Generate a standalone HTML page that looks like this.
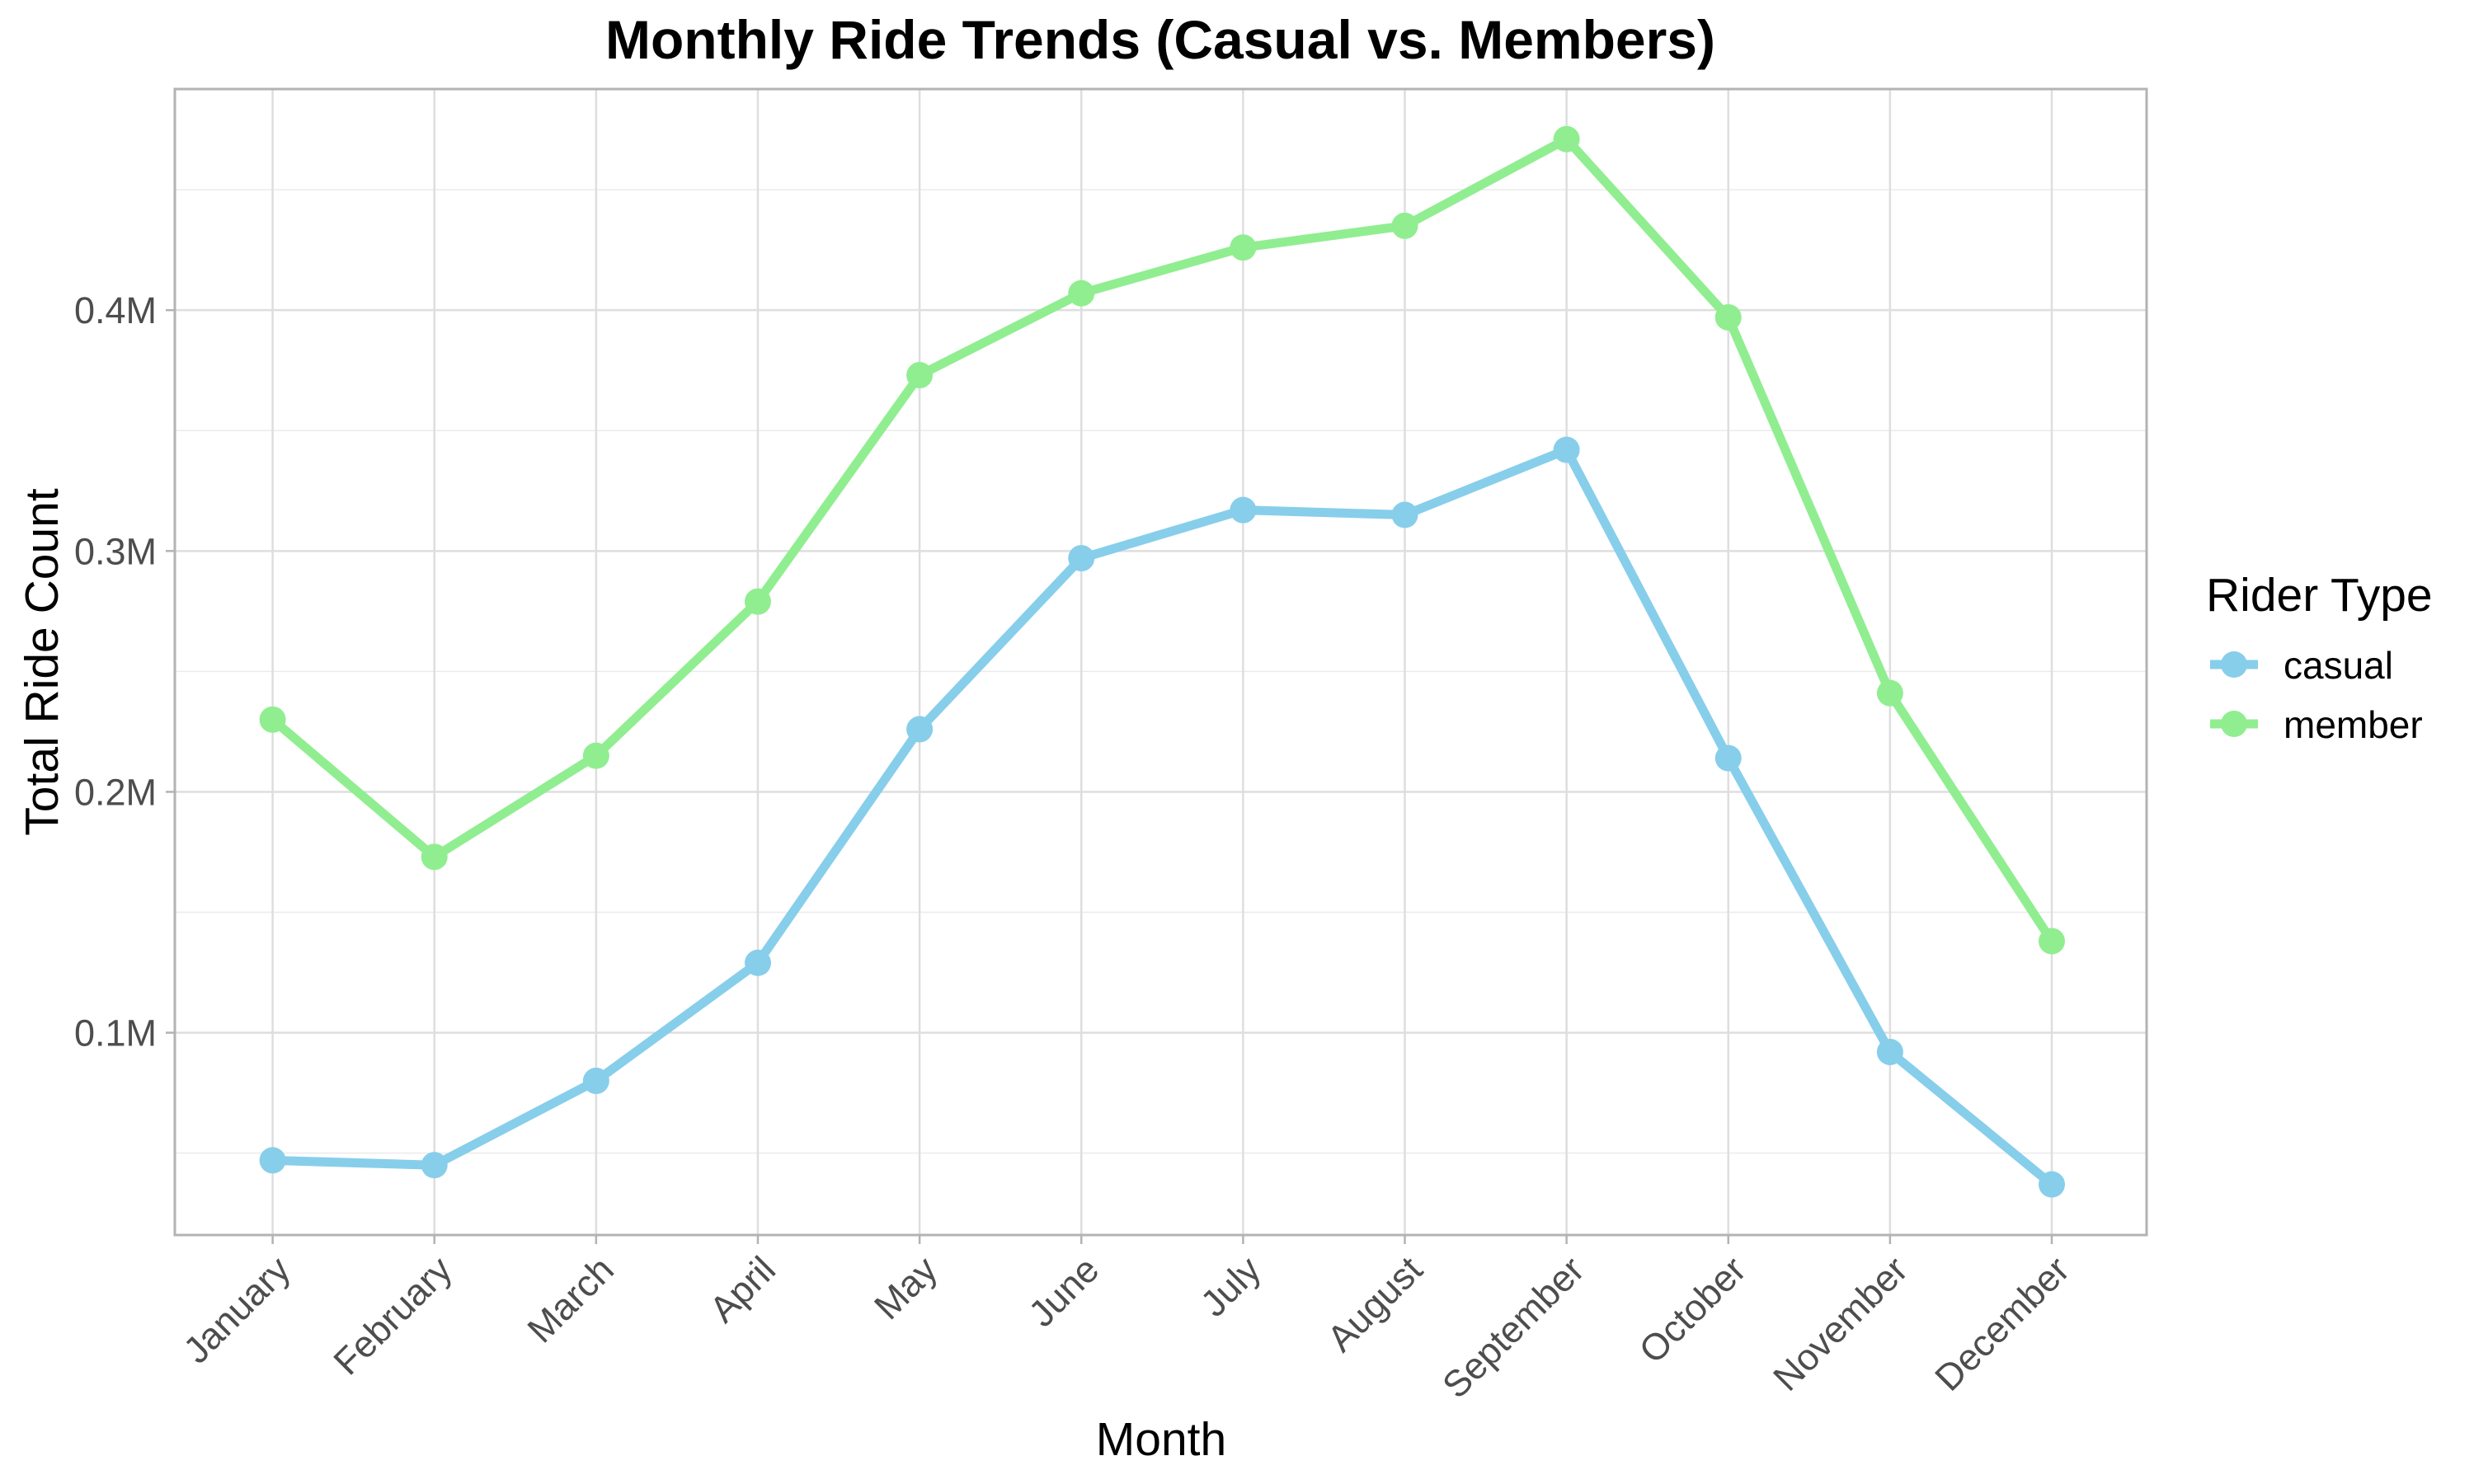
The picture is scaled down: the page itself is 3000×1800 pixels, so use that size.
<!DOCTYPE html>
<html><head><meta charset="utf-8"><style>
html,body{margin:0;padding:0;background:#fff;}
svg{display:block;font-family:"Liberation Sans",Arial,sans-serif;}
</style></head><body>
<svg id="chart" width="3000" height="1800" viewBox="0 0 3000 1800">
<text x="1407" y="71" text-anchor="middle" font-size="66" font-weight="bold" fill="#000">Monthly Ride Trends (Casual vs. Members)</text>
<g id="grid"></g>
<g id="series"></g>
<rect x="212" y="108" width="2391" height="1390" fill="none" stroke="#b3b3b3" stroke-width="3"/>
<g id="axes"></g>
<text x="1408" y="1765" text-anchor="middle" font-size="57" fill="#000">Month</text>
<text transform="translate(70,803) rotate(-90)" text-anchor="middle" font-size="57" fill="#000">Total Ride Count</text>
<g>
<text x="2675" y="741" font-size="57" fill="#000">Rider Type</text>
<g>
<line x1="2680" y1="806" x2="2738" y2="806" stroke="#87ceeb" stroke-width="11"/>
<circle cx="2709" cy="806" r="16" fill="#87ceeb"/>
<text x="2769" y="823" font-size="46" fill="#000">casual</text>
</g>
<g>
<line x1="2680" y1="878" x2="2738" y2="878" stroke="#90ee90" stroke-width="11"/>
<circle cx="2709" cy="878" r="16" fill="#90ee90"/>
<text x="2769" y="895" font-size="46" fill="#000">member</text>
</g>
</g>
</svg>
<script>
const months = ["January","February","March","April","May","June","July","August","September","October","November","December"];
const casualValues = [0.047,0.045,0.080,0.129,0.226,0.297,0.317,0.315,0.342,0.214,0.092,0.037];
const memberValues = [0.230,0.173,0.215,0.279,0.373,0.407,0.426,0.435,0.471,0.397,0.241,0.138];
const yTicks = [0.1,0.2,0.3,0.4];
const yTickLabels = ["0.1M","0.2M","0.3M","0.4M"];
const yMinorTicks = [0.05,0.15,0.25,0.35,0.45];

const NS = "http://www.w3.org/2000/svg";
const panel = {left:212,right:2603,top:108,bottom:1498};
const yMin = 0.016, yMax = 0.4918;
function xPos(i){ return 330.6 + i*(2488-330.6)/(months.length-1); }
function yPos(v){ return panel.bottom - (v-yMin)/(yMax-yMin)*(panel.bottom-panel.top); }
function mk(tag, attrs, parent){ const e=document.createElementNS(NS,tag); for(const k in attrs) e.setAttribute(k,attrs[k]); parent.appendChild(e); return e; }

const grid = document.getElementById('grid');
const axes = document.getElementById('axes');
const series = document.getElementById('series');

yMinorTicks.forEach(v=>{
  const l = mk('line',{x1:panel.left,x2:panel.right,y1:yPos(v),y2:yPos(v),stroke:'#ebebeb','stroke-width':1.5},grid);
  
  
});
yTicks.forEach((v,i)=>{
  const l = mk('line',{x1:panel.left,x2:panel.right,y1:yPos(v),y2:yPos(v),stroke:'#dedede','stroke-width':2.5},grid);
  
  
  const t = mk('line',{x1:panel.left-11,x2:panel.left,y1:yPos(v),y2:yPos(v),stroke:'#b3b3b3','stroke-width':2.5},axes);
  
  
  const tx = mk('text',{x:panel.left-22,y:yPos(v)+16,'text-anchor':'end','font-size':45,fill:'#4d4d4d'},axes);
  tx.textContent = yTickLabels[i];
  
  
});
months.forEach((m,i)=>{
  const x = xPos(i);
  const l = mk('line',{x1:x,x2:x,y1:panel.top,y2:panel.bottom,stroke:'#dedede','stroke-width':2.5},grid);
  
  
  const t = mk('line',{x1:x,x2:x,y1:panel.bottom,y2:panel.bottom+11,stroke:'#b3b3b3','stroke-width':2.5},axes);
  
  
  const tx = mk('text',{'text-anchor':'end','font-size':45,fill:'#4d4d4d',transform:`translate(${x+24},${panel.bottom+45}) rotate(-45)`},axes);
  tx.textContent = m;
  
  
});

function drawSeries(vals,color,name){
  const pts = vals.map((v,i)=>xPos(i)+','+yPos(v)).join(' ');
  const pl = mk('polyline',{points:pts,fill:'none',stroke:color,'stroke-width':11,'stroke-linejoin':'round'},series);
  
  
  vals.forEach((v,i)=>{
    const c = mk('circle',{cx:xPos(i),cy:yPos(v),r:16,fill:color},series);
    
    
  });
}
drawSeries(memberValues,'#90ee90','member');
drawSeries(casualValues,'#87ceeb','casual');
</script>
</body></html>
